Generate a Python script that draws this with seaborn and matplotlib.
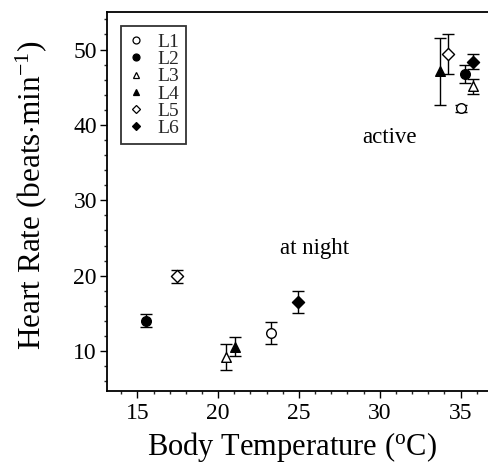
import matplotlib
matplotlib.use("Agg")
import matplotlib.pyplot as plt
import seaborn as sns
import pandas as pd
from matplotlib.lines import Line2D
from matplotlib.ticker import MultipleLocator

# Lizard heart rate vs body temperature, means with SE bars
series = ["L1", "L2", "L3", "L4", "L5", "L6"]

night_temp = [23.27, 15.55, 20.50, 21.05, 17.45, 24.95]
night_hr = [12.4, 14.0, 9.2, 10.6, 19.9, 16.5]
night_err = [1.45, 0.85, 1.7, 1.3, 0.85, 1.5]

active_temp = [35.00, 35.30, 35.75, 33.70, 34.25, 35.75]
active_hr = [42.2, 46.8, 45.1, 47.1, 49.4, 48.4]
active_err = [0.5, 1.2, 1.0, 4.5, 2.6, 1.0]

markers = ["o", "o", "^", "^", "D", "D"]
filled = [False, True, False, True, False, True]

sns.set_theme(style="ticks")
plt.rcParams["font.family"] = ["Liberation Serif", "DejaVu Serif"]
plt.rcParams["mathtext.fontset"] = "custom"
plt.rcParams["mathtext.rm"] = "Liberation Serif"
plt.rcParams["mathtext.it"] = "Liberation Serif:italic"

df = pd.DataFrame({
    "series": series * 2,
    "temp": night_temp + active_temp,
    "hr": night_hr + active_hr,
    "err": night_err + active_err,
    "marker": markers * 2,
    "filled": filled * 2,
})

fig = plt.figure(figsize=(4.88, 4.66), dpi=100)
ax = fig.add_axes([0.2186, 0.161, 0.7814, 0.8135])

for name, sub in df.groupby("series", sort=False):
    ax.errorbar(sub["temp"], sub["hr"], yerr=sub["err"], fmt="none",
                ecolor="black", elinewidth=1.0, capsize=4, capthick=1.0,
                zorder=2)
    m = sub["marker"].iloc[0]
    face = "black" if sub["filled"].iloc[0] else "white"
    size = 38 if m == "D" else 48
    sns.scatterplot(data=sub, x="temp", y="hr", marker=m, s=size,
                    color=face, edgecolor="black", linewidth=1.0,
                    ax=ax, zorder=3, legend=False)

ax.set_xlim(13.1, 36.7)
ax.set_ylim(4.7, 55)
ax.xaxis.set_major_locator(MultipleLocator(5))
ax.xaxis.set_minor_locator(MultipleLocator(1))
ax.yaxis.set_major_locator(MultipleLocator(10))
ax.yaxis.set_minor_locator(MultipleLocator(2))
ax.tick_params(which="major", direction="out", length=5, width=1.0,
               labelsize=17, colors="black")
ax.tick_params(axis="x", which="major", pad=3.5)
ax.tick_params(axis="y", which="major", pad=2)
ax.tick_params(which="minor", direction="out", length=2.5, width=1.0)
ax.spines["right"].set_visible(False)
for s in ["left", "bottom", "top"]:
    ax.spines[s].set_linewidth(1.3)
    ax.spines[s].set_color("black")

ax.set_xlabel("Body Temperature ($^{\\mathrm{o}}$C)", fontsize=22,
              color="black")
ax.set_ylabel("Heart Rate (beats$\\cdot$min$^{-1}$)", fontsize=22.5,
              color="black")
ax.xaxis.set_label_coords(0.487, -0.103)
ax.yaxis.set_label_coords(-0.15, 0.517)

ax.text(30.6, 38.3, "active", fontsize=16.5, ha="center", va="center",
        color="black")
ax.text(25.95, 23.55, "at night", fontsize=16.5, ha="center", va="center",
        color="black")

handles = []
for name, m, f in zip(series, markers, filled):
    handles.append(Line2D([], [], linestyle="none", marker=m,
                          markersize=5 if m != "D" else 4.5,
                          markerfacecolor="black" if f else "white",
                          markeredgecolor="black", markeredgewidth=0.9,
                          label=name))
leg = ax.legend(handles=handles, loc="upper left", fontsize=14,
                frameon=True, fancybox=False, edgecolor="black",
                handlelength=0.8, handletextpad=0.7, labelspacing=-0.02,
                borderpad=0.35, borderaxespad=0.75)
leg.get_frame().set_linewidth(1.3)

fig.savefig("out.png", dpi=100)
